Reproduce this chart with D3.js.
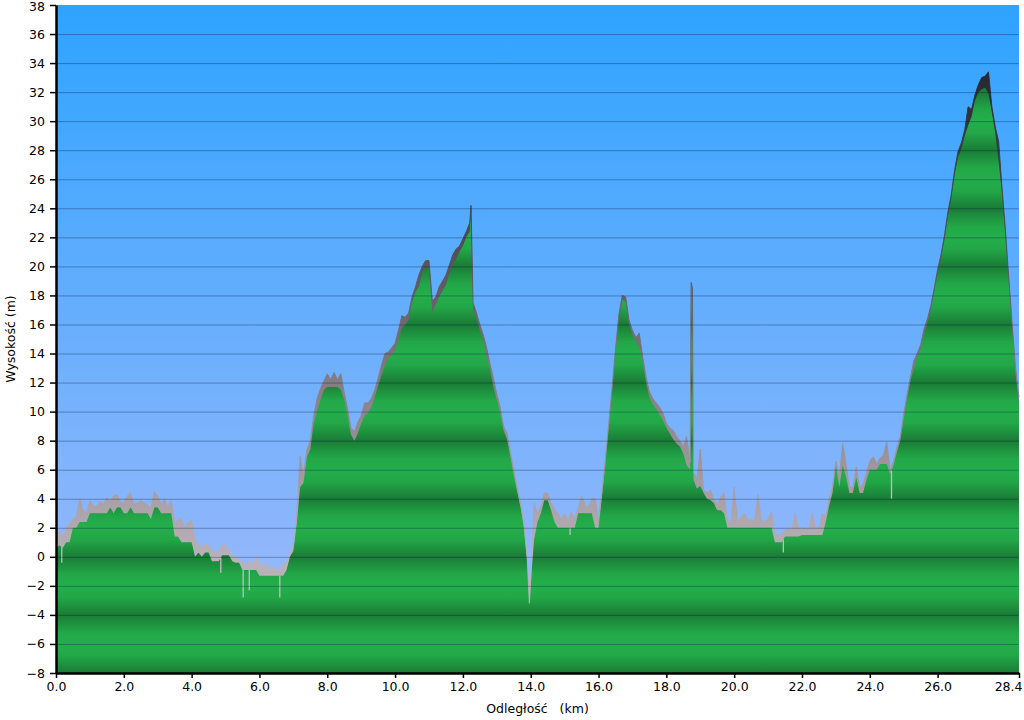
<!DOCTYPE html>
<html><head><meta charset="utf-8">
<script src="https://cdn.jsdelivr.net/npm/d3@7"></script>
<style>
body{margin:0;background:#fff}
svg{display:block}
text{font-family:"DejaVu Sans",Verdana,sans-serif}
</style>
</head><body>
<svg id="c" width="1024" height="720"></svg>
<script>
// ---- data (elevation profile, metres, sampled every 0.1 km) ----
const sampleStep = 0.1;
const ground = [
 0.6,0.8,0.6,1.0,1.0,2.0,2.0,2.4,2.4,2.4,
 3.0,3.0,3.0,3.0,3.0,3.0,3.4,3.0,3.4,3.4,
 3.0,3.0,3.4,3.0,3.0,3.0,3.0,3.0,2.6,3.4,
 3.4,3.0,3.0,3.0,3.0,1.4,1.4,1.0,1.0,1.0,
 1.0,0.0,0.3,0.0,0.3,0.3,-0.3,-0.3,-0.3,0.1,
 0.1,0.1,-0.3,-0.4,-0.4,-0.9,-0.9,-0.9,-0.9,-0.9,
 -1.3,-1.3,-1.3,-1.3,-1.3,-1.3,-1.3,-1.3,-0.9,0.0,
 0.4,2.3,4.8,5.1,6.9,7.4,9.2,10.1,10.8,11.5,
 11.7,11.7,11.7,11.7,11.5,10.8,9.7,8.4,8.0,8.5,
 9.2,9.7,9.9,10.3,11.0,11.8,12.5,13.2,13.7,13.9,
 14.2,15.0,15.7,16.0,16.3,17.5,18.2,18.6,19.5,20.0,
 19.8,16.8,17.4,17.9,18.3,18.7,19.5,20.1,20.5,21.0,
 21.4,22.0,22.4,17.0,16.4,15.6,14.9,13.8,12.9,11.7,
 10.8,9.9,8.7,8.1,6.9,5.6,4.5,3.4,2.0,-0.4,
 -1.8,1.2,2.4,3.0,3.9,3.9,3.2,2.4,2.0,2.0,
 2.0,2.0,2.0,2.0,3.0,3.0,3.0,3.0,3.0,2.0,
 2.0,4.1,6.4,8.9,11.4,14.0,16.4,17.7,17.6,16.0,
 15.3,14.8,14.5,13.4,12.0,11.0,10.5,10.2,9.8,9.4,
 8.9,8.5,8.1,7.8,7.6,7.1,6.3,6.0,5.3,4.7,
 4.9,4.4,4.0,3.9,3.7,3.2,3.2,3.0,2.0,2.0,
 2.0,2.0,2.0,2.0,2.0,2.0,2.0,2.0,2.0,2.0,
 2.0,2.0,1.0,1.0,1.0,1.4,1.4,1.4,1.4,1.4,
 1.5,1.5,1.5,1.5,1.5,1.5,1.5,2.4,3.5,4.4,
 6.3,4.8,6.3,5.5,4.4,4.4,5.5,4.4,4.4,5.3,
 6.0,6.0,6.0,6.4,6.4,6.4,5.7,6.3,7.2,8.0,
 9.5,10.9,12.1,13.0,13.7,14.3,15.3,16.1,17.0,18.2,
 19.5,20.5,21.8,23.4,24.6,26.3,27.5,28.1,29.0,29.7,
 30.3,31.4,32.0,32.2,32.3,31.9,30.6,29.2,27.2,25.0,
 22.1,18.8,15.6,12.6,10.6
];
const upper = [
 1.6,1.8,1.3,2.0,2.3,2.6,2.8,4.0,3.2,3.0,
 3.9,3.5,3.5,3.8,3.6,4.1,3.8,4.2,4.3,3.8,
 3.7,4.2,4.4,3.6,3.7,3.9,3.7,3.6,3.4,4.5,
 4.2,3.6,4.0,3.4,3.9,2.3,2.6,2.6,2.0,2.4,
 2.5,1.2,0.9,0.6,0.9,0.8,0.5,0.2,0.4,0.8,
 0.8,0.4,0.1,0.0,-0.2,-0.4,-0.6,-0.3,-0.5,0.0,
 -0.5,-0.6,-0.4,-0.9,-0.7,-0.9,-0.9,-0.5,-0.4,0.2,
 0.8,2.8,6.9,5.6,7.4,8.0,9.7,10.9,11.6,12.1,
 12.6,12.2,12.7,12.2,12.6,11.3,10.2,8.9,8.6,9.3,
 9.7,10.6,10.6,10.9,11.5,12.3,13.2,14.0,14.1,14.4,
 14.7,15.6,16.6,16.5,16.8,17.9,18.6,19.4,20.0,20.4,
 20.4,17.6,17.9,18.6,19.0,19.4,20.1,20.8,21.2,21.4,
 21.9,22.4,23.0,17.5,16.8,16.0,15.3,14.4,13.3,12.3,
 11.2,10.3,9.0,8.5,7.2,6.0,4.8,3.7,2.3,-0.2,
 -1.6,3.7,3.0,3.5,4.4,4.4,3.7,3.3,3.0,2.6,
 3.0,2.5,3.1,2.6,3.4,4.2,3.6,3.4,4.0,4.0,
 2.6,4.5,6.7,9.2,11.7,14.3,16.7,18.0,17.9,16.3,
 15.6,15.1,15.4,13.8,12.4,11.4,10.9,10.6,10.3,9.9,
 9.2,8.9,8.7,8.3,8.0,7.6,8.3,6.5,5.8,5.4,
 7.4,4.6,4.4,4.6,4.0,3.6,4.1,4.4,2.5,2.4,
 4.8,2.4,2.7,3.0,2.5,2.6,2.4,4.3,2.5,2.4,
 2.6,3.1,1.6,1.5,1.6,1.8,2.0,1.8,3.0,2.0,
 2.0,1.9,2.0,3.0,2.0,2.0,3.0,2.8,4.0,4.8,
 6.6,5.5,7.8,6.4,4.8,4.8,6.2,4.8,5.0,5.8,
 6.6,6.9,6.4,6.8,7.0,7.9,6.0,6.6,7.5,8.3,
 9.8,11.2,12.4,13.5,14.0,14.6,15.7,16.4,17.3,18.5,
 19.8,20.8,22.1,23.7,24.9,26.6,27.9,28.5,29.4,31.0,
 30.8,31.8,32.5,33.0,33.1,33.4,31.0,29.6,28.6,25.4,
 22.5,19.2,16.0,13.0,11.0
];
// narrow features between samples (km, metres)
const spikeKm = [12.24, 13.96, 18.73, 18.77];
const spikeM  = [24.2, -3.2, 18.9, 18.5];
// short downward noise dips (km, metres)
const dipKm = [0.17, 4.86, 5.52, 5.70, 6.60, 21.45, 24.64, 15.16];
const dipM  = [-0.4, -1.1, -2.8, -2.3, -2.8, 0.3, 4.0, 1.5];
const yTickValues = [-8,-6,-4,-2,0,2,4,6,8,10,12,14,16,18,20,22,24,26,28,30,32,34,36,38];
const xTickValues = [0,2,4,6,8,10,12,14,16,18,20,22,24,26,28.4];
const xTitle = "Odległość   (km)";
const yTitle = "Wysokość (m)";

// ---- build table ----
const rows = ground.map((g,i)=>({km:+(i*sampleStep).toFixed(2), g, u:upper[i]}));
spikeKm.forEach((k,i)=>rows.push({km:k, g:spikeM[i], u:spikeM[i]}));
rows.sort((a,b)=>a.km-b.km);

const svg = d3.select("#c");
const L=56, R=1019, T=5, B=673;
const x = d3.scaleLinear().domain([0,28.4]).range([L,R]);
const y = d3.scaleLinear().domain([-8,38]).range([B,T]);

const defs = svg.append("defs");
const sky = defs.append("linearGradient").attr("id","sky").attr("x1",0).attr("y1",0).attr("x2",0).attr("y2",1);
sky.append("stop").attr("offset",0).attr("stop-color","#2ea3ff");
sky.append("stop").attr("offset",1).attr("stop-color","#a6bbfb");

const grn = defs.append("linearGradient").attr("id","grn").attr("gradientUnits","userSpaceOnUse")
  .attr("x1",0).attr("x2",0).attr("y1",y(0)).attr("y2",y(-4)).attr("spreadMethod","repeat");
[[0,"#1a7c36"],[0.3,"#22a747"],[0.5,"#24ae4c"],[0.7,"#22a747"],[1,"#1a7c36"]]
  .forEach(s=>grn.append("stop").attr("offset",s[0]).attr("stop-color",s[1]));

const gry = defs.append("linearGradient").attr("id","gry").attr("gradientUnits","userSpaceOnUse")
  .attr("x1",0).attr("x2",0).attr("y1",y(34)).attr("y2",y(-8));
[[0,"#26262c"],[0.286,"#4c4c54"],[0.524,"#857d84"],[0.714,"#a8a0a6"],[0.81,"#b8b2b8"],[1,"#bcb6bc"]]
  .forEach(s=>gry.append("stop").attr("offset",s[0]).attr("stop-color",s[1]));

svg.append("rect").attr("x",L).attr("y",T).attr("width",R-L).attr("height",B-T).attr("fill","url(#sky)");

svg.append("path").datum(rows).attr("fill","url(#gry)")
  .attr("d",d3.area().x(d=>x(d.km)).y0(y(-8)).y1(d=>y(d.u)));
svg.append("path").datum(rows).attr("fill","url(#grn)")
  .attr("d",d3.area().x(d=>x(d.km)).y0(y(-8)).y1(d=>y(d.g)));
svg.append("path").datum(rows).attr("fill","none").attr("stroke","url(#gry)").attr("stroke-width",0.9)
  .attr("d",d3.line().x(d=>x(d.km)).y(d=>y(d.u)));

// dips
const bis = d3.bisector(d=>d.km).left;
dipKm.forEach((k,i)=>{
  const j = Math.max(1,bis(rows,k)); const a=rows[j-1], b=rows[j];
  const gv = a.g + (b.g-a.g)*(k-a.km)/(b.km-a.km);
  svg.append("line").attr("x1",x(k)).attr("x2",x(k)).attr("y1",y(gv)).attr("y2",y(dipM[i]))
    .attr("stroke","#c4bcc4").attr("stroke-width",1.3);
});

// grid
svg.append("g").selectAll("line").data(yTickValues.filter(v=>v>-8&&v<38)).join("line")
  .attr("x1",L).attr("x2",R).attr("y1",d=>y(d)+0.5).attr("y2",d=>y(d)+0.5)
  .attr("stroke","rgba(0,20,60,0.33)").attr("stroke-width",1);

// axes
const ya = svg.append("g").attr("transform",`translate(${L},0)`)
  .call(d3.axisLeft(y).tickValues(yTickValues).tickFormat(d3.format("d")).tickSize(6).tickSizeOuter(0));
const xa = svg.append("g").attr("transform",`translate(0,${B})`)
  .call(d3.axisBottom(x).tickValues(xTickValues).tickFormat(d3.format(".1f")).tickSize(5).tickSizeOuter(0));
[ya,xa].forEach(a=>{
  a.select(".domain").attr("stroke","#000").attr("stroke-width",2.5);
  a.selectAll(".tick line").attr("stroke","#000").attr("stroke-width",1.5);
  a.selectAll(".tick text").attr("fill","#000").style("font-size","12.5px").style("font-family",'"DejaVu Sans",Verdana,sans-serif');
});
ya.selectAll(".tick text").attr("x",-11);
// keep the topmost label inside the picture
ya.selectAll(".tick text").filter(d=>d===d3.max(yTickValues)).attr("dy","0.75em").attr("y",-4);
xa.selectAll(".tick text").attr("y",9);
// keep the last distance label inside the picture
xa.selectAll(".tick text").filter(d=>d===d3.max(xTickValues)).attr("text-anchor","end").attr("x",3);

svg.append("text").attr("x",(L+R)/2).attr("y",713).attr("text-anchor","middle")
  .style("font-size","12.5px").style("white-space","pre").text(xTitle);
svg.append("text").attr("transform",`translate(15,${(T+B)/2}) rotate(-90)`).attr("text-anchor","middle")
  .style("font-size","12.5px").text(yTitle);
</script>
</body></html>
